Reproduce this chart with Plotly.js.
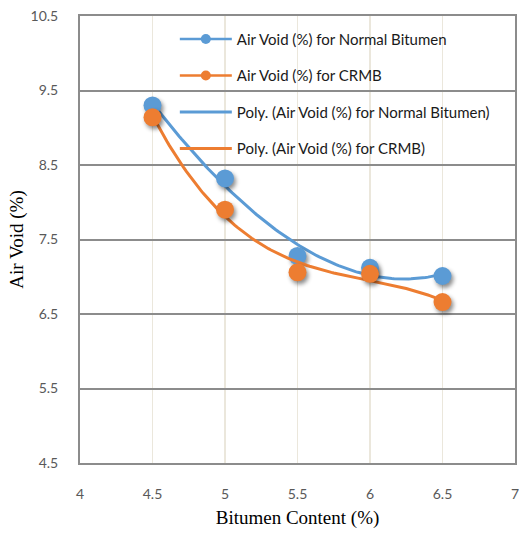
<!DOCTYPE html>
<html>
<head>
<meta charset="utf-8">
<script src="https://cdn.plot.ly/plotly-3.0.1.min.js"></script>
<style>
html,body{margin:0;padding:0;background:#fff;}
#chart{width:519px;height:535px;}
#chart .scatterlayer .trace .points path{filter:drop-shadow(2px 3px 2px rgba(0,0,0,0.45));}
</style>
</head>
<body>
<div id="chart"></div>
<script>
// Data
const bitumenContent = [4.5, 5.0, 5.5, 6.0, 6.5];
const airVoidNormal = [9.30, 8.32, 7.28, 7.12, 7.01];
const airVoidCRMB = [9.14, 7.90, 7.06, 7.04, 6.66];
const seriesNames = ['Air Void (%) for Normal Bitumen', 'Air Void (%) for CRMB'];
const xTicks = [4, 4.5, 5, 5.5, 6, 6.5, 7];
const yTicks = [4.5, 5.5, 6.5, 7.5, 8.5, 9.5, 10.5];

const blue = '#5b9bd5', orange = '#ed7d31';

// Least-squares polynomial (Excel "Poly." trendline, order 3)
function polyFit(xs, ys, order) {
  const n = order + 1;
  const A = [];
  for (let r = 0; r < n; r++) {
    A.push(new Array(n + 1).fill(0));
    for (let i = 0; i < xs.length; i++) {
      for (let c = 0; c < n; c++) A[r][c] += Math.pow(xs[i], r + c);
      A[r][n] += Math.pow(xs[i], r) * ys[i];
    }
  }
  for (let c = 0; c < n; c++) {
    for (let r = c + 1; r < n; r++) {
      const f = A[r][c] / A[c][c];
      for (let k = c; k <= n; k++) A[r][k] -= f * A[c][k];
    }
  }
  const coef = new Array(n).fill(0);
  for (let r = n - 1; r >= 0; r--) {
    let s = A[r][n];
    for (let k = r + 1; k < n; k++) s -= A[r][k] * coef[k];
    coef[r] = s / A[r][r];
  }
  return coef;
}
function trend(xs, ys) {
  const c = polyFit(xs, ys, 3);
  const x0 = Math.min(...xs), x1 = Math.max(...xs);
  const tx = [], ty = [];
  for (let i = 0; i <= 120; i++) {
    const x = x0 + (x1 - x0) * i / 120;
    let y = 0;
    for (let k = 0; k < c.length; k++) y += c[k] * Math.pow(x, k);
    tx.push(x); ty.push(y);
  }
  return {x: tx, y: ty};
}
const tN = trend(bitumenContent, airVoidNormal);
const tC = trend(bitumenContent, airVoidCRMB);

const traces = [
  {x: tN.x, y: tN.y, mode: 'lines', line: {color: blue, width: 3}, showlegend: false, hoverinfo: 'skip'},
  {x: bitumenContent, y: airVoidNormal, mode: 'markers', marker: {color: blue, size: 18}, showlegend: false},
  {x: tC.x, y: tC.y, mode: 'lines', line: {color: orange, width: 3}, showlegend: false, hoverinfo: 'skip'},
  {x: bitumenContent, y: airVoidCRMB, mode: 'markers', marker: {color: orange, size: 18}, showlegend: false},
  // legend entries
  {x: [null], y: [null], mode: 'lines+markers', name: seriesNames[0], legendgroup: 'a', line: {color: blue, width: 2.5}, marker: {color: blue, size: 10}},
  {x: [null], y: [null], mode: 'lines+markers', name: seriesNames[1], legendgroup: 'b', line: {color: orange, width: 2.5}, marker: {color: orange, size: 10}},
  {x: [null], y: [null], mode: 'lines', name: 'Poly. (' + seriesNames[0] + ')', legendgroup: 'c', line: {color: blue, width: 3}},
  {x: [null], y: [null], mode: 'lines', name: 'Poly. (' + seriesNames[1] + ')', legendgroup: 'd', line: {color: orange, width: 3}}
];

const layout = {
  width: 519, height: 535,
  margin: {l: 80, r: 4, t: 16, b: 72},
  paper_bgcolor: '#fff', plot_bgcolor: '#fff',
  font: {family: 'Lato, "Open Sans", sans-serif', size: 13, color: '#595959'},
  showlegend: true,
  legend: {
    x: 0.218, y: 0.985, xanchor: 'left', yanchor: 'top',
    bgcolor: 'rgba(0,0,0,0)', borderwidth: 0,
    font: {family: 'Lato, "Open Sans", sans-serif', size: 15, color: '#1a1a1a'},
    tracegroupgap: 14, itemwidth: 52
  },
  xaxis: {
    range: [4, 7], tickvals: xTicks, ticktext: xTicks.map(String),
    showgrid: true, gridcolor: '#ebe7dc', gridwidth: 1.5,
    showline: true, linecolor: '#8c8c8c', linewidth: 2, mirror: true,
    zeroline: false, ticks: '', ticklabelstandoff: 17, ticklabeloverflow: 'allow',
    tickfont: {size: 14},
    title: {text: 'Bitumen Content (%)', font: {family: '"Liberation Serif", "Times New Roman", serif', size: 19, color: '#000'}, standoff: 10}
  },
  yaxis: {
    range: [4.5, 10.5], tickvals: yTicks, ticktext: yTicks.map(String),
    showgrid: true, gridcolor: '#8c8c8c', gridwidth: 2,
    showline: true, linecolor: '#8c8c8c', linewidth: 2, mirror: true,
    zeroline: false, ticks: '', ticklabelstandoff: 17, ticklabeloverflow: 'allow',
    tickfont: {size: 14},
    title: {text: 'Air Void (%)', font: {family: '"Liberation Serif", "Times New Roman", serif', size: 19, color: '#000'}, standoff: 2}
  }
};

Plotly.newPlot('chart', traces, layout, {displayModeBar: false, staticPlot: true});
</script>
</body>
</html>
